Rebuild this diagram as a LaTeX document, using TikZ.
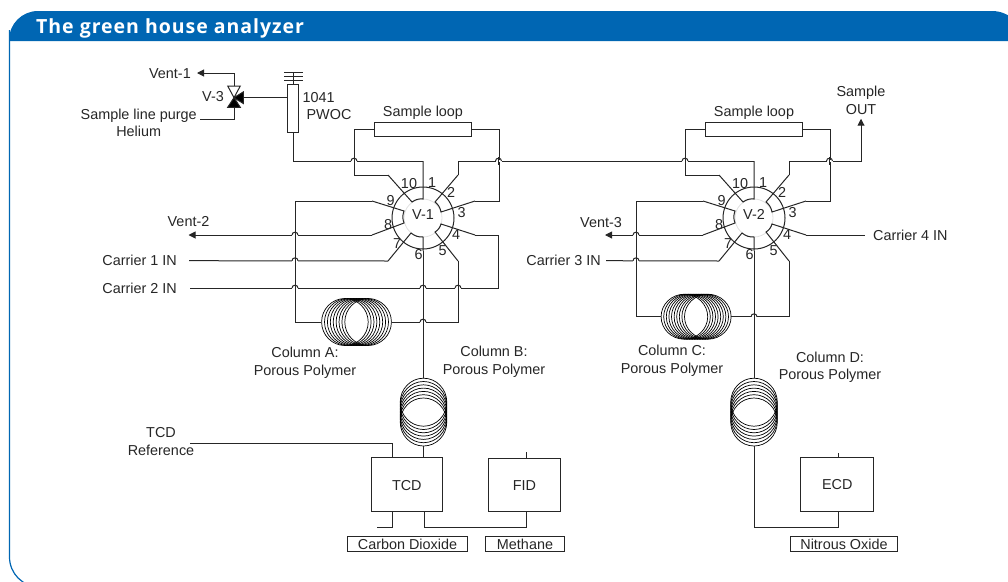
\documentclass[tikz,border=0pt]{standalone}
\usepackage{fontspec}
\setmainfont{Liberation Sans}
\newfontfamily\headfont[LetterSpace=5]{Open Sans}
\usetikzlibrary{arrows.meta}
\definecolor{headblue}{HTML}{0066B3}

\begin{document}
\begin{tikzpicture}[x=1pt,y=-1pt,>={Triangle[length=7pt,width=7pt]}]
	\tikzstyle{pipe}=[line width=1pt,draw=black!85]
	\tikzstyle{txt}=[font=\fontsize{14.4}{17.5}\selectfont,text=black!85,inner sep=0pt]
	\tikzstyle{lbl}=[txt,text height=10.4pt,text depth=0pt]
	\tikzstyle{lbltwo}=[txt,align=center]
	\tikzstyle{box}=[lbl,draw=black!85,line width=1pt]
	\tikzstyle{detector}=[box,minimum height=53.7pt]
	\tikzstyle{gas}=[box,minimum height=14.3pt]
	\tikzstyle{coil}=[line width=0.7pt,draw=black]
	\tikzstyle{coilbox}=[inner sep=0pt]

	\path[use as bounding box,clip] (0,0) rectangle (1008,581);

	% Draw the frame and the title bar
	\draw[headblue,line width=1.2pt,rounded corners=30pt] (9.5,30) -- (9.5,587) -- (1030,587);
	\fill[headblue] (9,41) [rounded corners=29pt] -- (9,11) [rounded corners=32pt] -- (1024,11) [rounded corners=0pt] -- (1024,41) -- cycle;
	\node[anchor=west,inner sep=0pt,text=white,font=\headfont\fontsize{19.5}{21}\selectfont\bfseries] (Title) at (36,28.5) {The green house analyzer};

	% Draw the two ten port valves
	\foreach \v/\cx in {1/423,2/754}{
		\node[circle,draw=black!12,line width=0.8pt,minimum size=38pt,inner sep=0pt] (V\v-core) at (\cx,218) {};
		\node[circle,pipe,draw,minimum size=62pt,inner sep=0pt] (V\v) at (\cx,218) {};
		\node[lbl] (V\v-name) at (\cx,214) {V-\v};
		\foreach \p/\dx/\dy in {10/-14/-35,1/9/-36,2/28/-26,3/38.5/-6,4/33/16,5/19.5/32,6/-4.5/36,7/-26/25,8/-35/6,9/-32.5/-18}
		\node[lbl] (V\v-n\p) at (\cx+\dx,218+\dy) {\p};
		% inner and outer end of every port
		\foreach \p/\ix/\iy/\ox/\oy in {10/-11/-16/-35/-43,1/0/-19/0/-57,2/12/-16/35/-43,3/18/-6/52/-17,4/18/6/52/17,5/12/14/35/43,6/0/19/0/33,7/-12/15/-35/43,8/-19/5/-51/17,9/-19/-7/-51/-17}{
			\coordinate (V\v-i\p) at (\cx+\ix,218+\iy);
			\coordinate (V\v-o\p) at (\cx+\ox,218+\oy);
		}
		\draw[pipe] (V\v-o10) -- (V\v-i10) to[bend left=20] (V\v-i1) -- (V\v-o1);
		\draw[pipe] (V\v-o2) -- (V\v-i2) to[bend left=20] (V\v-i3) -- (V\v-o3);
		\draw[pipe] (V\v-o4) -- (V\v-i4) to[bend left=20] (V\v-i5) -- (V\v-o5);
		\draw[pipe] (V\v-o6) -- (V\v-i6) to[bend left=20] (V\v-i7) -- (V\v-o7);
		\draw[pipe] (V\v-o8) -- (V\v-i8) to[bend left=20] (V\v-i9) -- (V\v-o9);
		% Sample loop of this valve
		\node[box,minimum width=97pt,minimum height=13.7pt] (Loop\v) at (\cx,129.5) {};
		\node[lbl] (Loop\v-name) at (\cx,111) {Sample loop};
		\draw[pipe] (V\v-o10) -- ++(-34,0) |- (Loop\v.west);
		\draw[pipe] (Loop\v.east) -- ++(27,0) |- (V\v-o3);
	}

	% Draw the columns
	\foreach \c/\cx/\cy/\ry/\n/\s in {A/356.5/322/23.5/8/2.9,C/696/316.7/22.5/9/2.6}{
		\node[coilbox,minimum width=70pt,minimum height=2*\ry pt] (Col\c) at (\cx,\cy) {};
		\foreach \k in {0,...,\n}
		\draw[coil] (\cx-11.6+\k*\s,\cy) ellipse (23.3 and \ry);
	}
	\foreach \c/\cx in {B/423.5,D/754}{
		\node[coilbox,minimum width=46.6pt,minimum height=68pt] (Col\c) at (\cx,412) {};
		\foreach \k in {0,...,6}
		\draw[coil] (\cx,422-\k*3.3) ellipse (23.3 and 24);
	}

	% Draw the detectors and the gas labels
	\node[detector,minimum width=71pt] (TCD) at (406.8,484.8) {TCD};
	\node[detector,minimum width=72.4pt] (FID) at (524.5,485) {FID};
	\node[detector,minimum width=72.7pt] (ECD) at (837.3,484.3) {ECD};
	\node[gas,minimum width=120.4pt] (CO2) at (407.5,544) {Carbon Dioxide};
	\node[gas,minimum width=79.4pt] (CH4) at (525,544) {Methane};
	\node[gas,minimum width=106.6pt] (N2O) at (844,544) {Nitrous Oxide};

	% Annotate the columns
	\node[lbltwo] (ColA-name) at (305,363) {Column A:\\Porous Polymer};
	\node[lbltwo] (ColB-name) at (494,362) {Column B:\\Porous Polymer};
	\node[lbltwo] (ColC-name) at (672,361) {Column C:\\Porous Polymer};
	\node[lbltwo] (ColD-name) at (830,367.5) {Column D:\\Porous Polymer};

	% Inlets and outlets
	\node[lbl,anchor=east,inner xsep=6pt] (Vent1) at (197,73) {Vent-1};
	\node[lbl] (V3-name) at (213,96) {V-3};
	\node[lbltwo] (Purge) at (138.7,122.8) {Sample line purge\\Helium};
	\node[lbl] (Vent2) at (188.5,221) {Vent-2};
	\node[lbl] (Vent3) at (601,222.3) {Vent-3};
	\node[lbl,anchor=east,inner xsep=12pt] (Carrier1) at (189,260.7) {Carrier 1 IN};
	\node[lbl,anchor=east,inner xsep=13pt] (Carrier2) at (190,288) {Carrier 2 IN};
	\node[lbl,anchor=east,inner xsep=5pt] (Carrier3) at (606,260.7) {Carrier 3 IN};
	\node[lbl,anchor=west,inner xsep=8pt] (Carrier4) at (865,235) {Carrier 4 IN};
	\node[lbltwo,inner ysep=4pt] (SampleOut) at (861,100.5) {Sample\\OUT};
	\node[lbltwo] (TCDRef) at (161,441.5) {TCD\\Reference};
	\coordinate (purge-end) at (200,119);
	\coordinate (ref-end) at (190,443);
	\coordinate (co2-end) at (376.7,527);

	% Draw the oven column and the purge valve
	\node[box,minimum width=10.7pt,minimum height=47.7pt] (PWOC) at (293.2,108.8) {};
	\node[lbl] (PWOC-a) at (318.7,97) {1041};
	\node[lbl] (PWOC-b) at (329,114) {PWOC};
	\draw[pipe] (PWOC.north) -- ++(0,-12.5);
	\foreach \y in {0,3.5,7.5}
	\draw[pipe] ([yshift=\y pt]284.3,80) -- ++(18.4,0);
	\coordinate (V3) at (234,97.7);
	\coordinate (V3-t) at (234,86);
	\coordinate (V3-r) at (243.3,97.7);
	\coordinate (V3-b) at (234,107.3);
	\draw[pipe,fill=white] (V3) -- ++(-6.3,-11.7) -- ++(12.6,0) -- cycle;
	\draw[pipe,fill=black] (V3) -- ++(-6.3,9.6) -- ++(12.6,0) -- cycle;
	\draw[pipe,fill=black] (V3) -- ++(9.3,-5.8) -- ++(0,11.6) -- cycle;
	\draw[pipe,->] (V3-t) |- (Vent1.east);
	\draw[pipe] (V3-b) |- (purge-end);
	\draw[pipe] (V3-r) -- (V3-r -| PWOC.west);

	% Connect the valves
	\draw[pipe] (PWOC.south) |- (V1-o1);
	\draw[pipe] (V1-o2) |- (V2-o1);
	\draw[pipe] (V1-o4) -- ++(23.5,0) |- (Carrier2.east);
	\draw[pipe] (V1-o5) |- (ColA.east);
	\draw[pipe] (V1-o9) -- ++(-77,0) |- (ColA.west);
	\draw[pipe,->] (V1-o8) -- (V1-o8 -| Vent2.south);
	\draw[pipe] (V1-o7) -- (Carrier1.east);
	\draw[pipe] (V1-o6) -- (V1-o6 |- ColB.north);
	\draw[pipe] (ColB.south) -- (ColB.south |- TCD.north);
	\draw[pipe] (ref-end) -| ([xshift=-14.5pt]TCD.north);
	\draw[pipe] ([xshift=-14.5pt]TCD.south) |- (co2-end);
	\draw[pipe] ([xshift=17.5pt]TCD.south) -- ++(0,15.3) -| ([xshift=1.5pt]FID.south);
	\draw[pipe] ([xshift=1.5pt]FID.north) -- ++(0,-6);
	\draw[pipe,->] (V2-o2) -- ++(0,-14) -| (SampleOut.south);
	\draw[pipe] (V2-o4) -- (Carrier4.west);
	\draw[pipe] (V2-o5) |- (ColC.east);
	\draw[pipe] (V2-o9) -- ++(-67,0) |- (ColC.west);
	\draw[pipe,->] (V2-o8) -- ([xshift=4pt]Vent3.south |- V2-o8);
	\draw[pipe] (V2-o7) -- (Carrier3.east);
	\draw[pipe] (V2-o6) -- (V2-o6 |- ColD.north);
	\draw[pipe] (ColD.south) -- ++(0,81) -| ([xshift=0.7pt]ECD.south);
	\draw[pipe] ([xshift=0.7pt]ECD.north) -- ++(0,-3.5);

	% Draw the hops where a line crosses another one
	\foreach \x/\y in {354/161,498.5/161,295/235,295/260.7,295/288,423/288,458/288,423/322,685/161,829.5/161,636/235,636/260.7,754/316.7}{
		\draw[white,line width=2pt] (\x-3,\y) -- (\x+3,\y);
		\draw[pipe] (\x-3,\y) .. controls (\x-3,\y-3.7) and (\x+3,\y-3.7) .. (\x+3,\y);
		\draw[pipe] (\x,\y-4) -- (\x,\y+4);
	}
\end{tikzpicture}
\end{document}
